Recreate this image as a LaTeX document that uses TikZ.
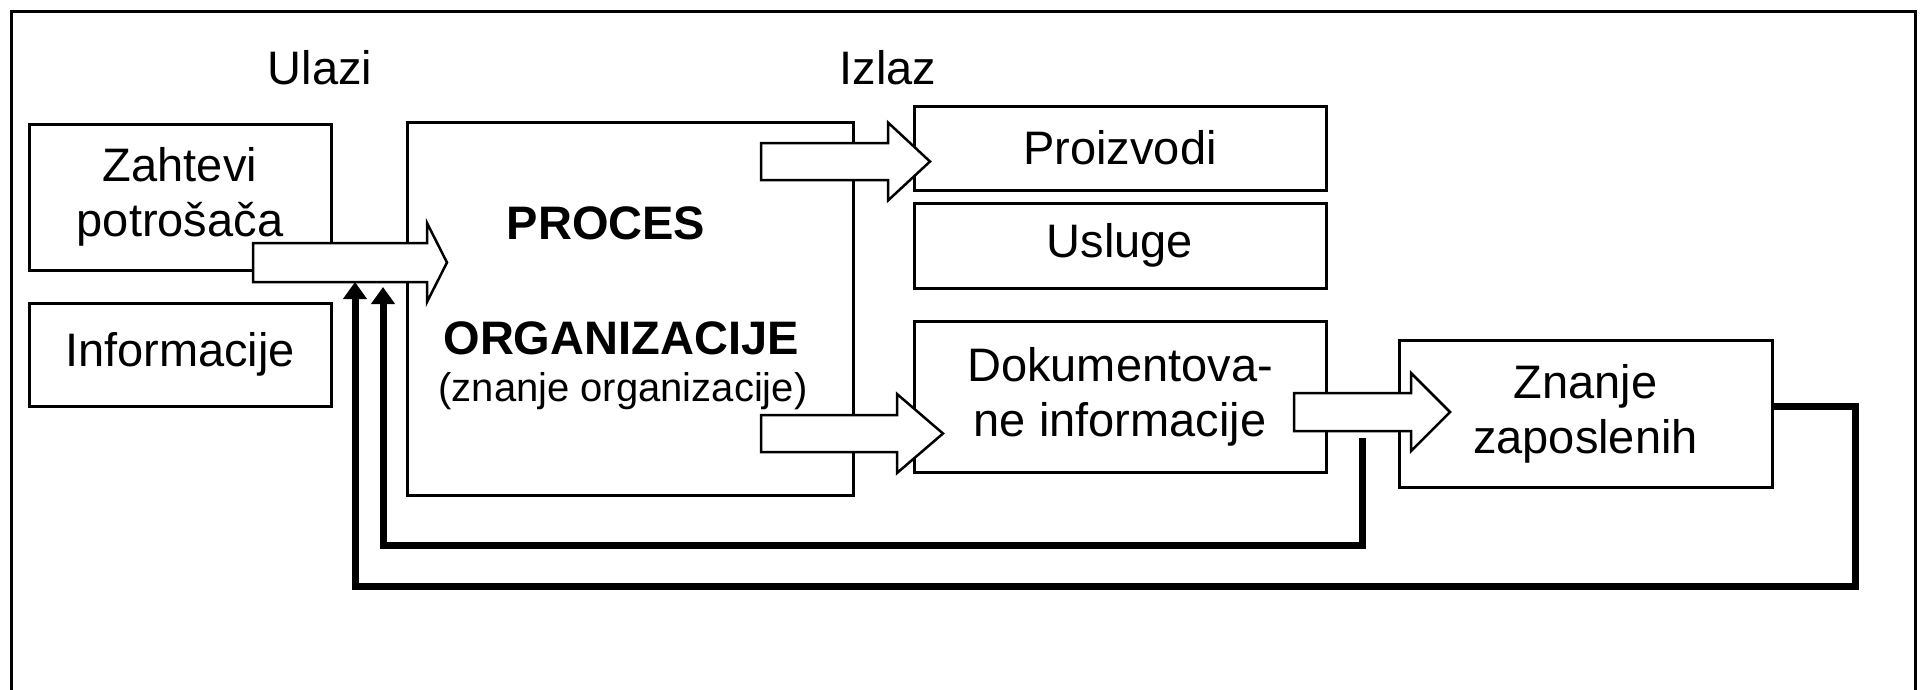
\documentclass[tikz,border=0pt]{standalone}
\usepackage{fontspec}
\setmainfont{Liberation Sans}
\usetikzlibrary{arrows.meta}

\begin{document}
\begin{tikzpicture}[x=1pt,y=-1pt,
  box/.style={draw,line width=3pt,align=center,inner sep=0pt,font=\fontsize{47pt}{55pt}\selectfont},
  lbl/.style={inner sep=0pt,align=center,font=\fontsize{47pt}{55pt}\selectfont},
  blockarrow/.style={draw,fill=white,line width=2.5pt,line join=miter},
  feedback/.style={line width=7pt,-{Triangle[width=23pt,length=17pt]}}]
\useasboundingbox (0,0) rectangle (1921,689);
\draw[line width=3pt] (11,700) |- (1915,11) -- (1915,700);

\node[lbl] (ulazi) at (320,68) {Ulazi};
\node[lbl] (izlaz) at (888,68) {Izlaz};

\node[box,minimum width=302pt,minimum height=146pt] (zah) at (180,197) {Zahtevi\\potrošača};
\node[box,minimum width=302pt,minimum height=103pt] (inf) at (180,354.5) {Informacije};
\node[box,minimum width=446pt,minimum height=373pt] (proc) at (630,308.5) {};
\node[lbl,font=\fontsize{47pt}{55pt}\selectfont\bfseries] (procA) at (606,223) {PROCES};
\node[lbl,font=\fontsize{47pt}{55pt}\selectfont\bfseries] (procB) at (621,338) {ORGANIZACIJE};
\node[lbl,font=\fontsize{40pt}{46pt}\selectfont] (procC) at (623,391) {(znanje organizacije)};
\node[box,minimum width=412pt,minimum height=84pt] (proiz) at (1120,148) {Proizvodi};
\node[box,minimum width=412pt,minimum height=85pt] (usl) at (1120,245.5) {Usluge};
\node[box,minimum width=412pt,minimum height=151pt] (dok) at (1120,396.5) {Dokumentova-\\ne informacije};
\node[box,minimum width=373pt,minimum height=147pt] (zna) at (1585.5,413.5) {Znanje\\zaposlenih};

\coordinate (fbin) at (383,287);
\coordinate (fbout) at (355,282);
\coordinate (dokfb) at (1362,438);
\draw[feedback] (dokfb) -- (dokfb |- 0,545) -| (fbin);
\draw[feedback] ([yshift=7pt]zna.east) -- ++(82,0) -- ++(0,180) -| (fbout);

\coordinate (a1) at (253,262.5);
\coordinate (a2) at (761,161.5);
\coordinate (a3) at (761,433.5);
\coordinate (a4) at (1294,412);
\draw[blockarrow] (a1) ++(0,-19.5) -- ++(174,0) -- ++(0,-20) -- ++(20,39.5) -- ++(-20,39.5) -- ++(0,-20) -- ++(-174,0) -- cycle;
\draw[blockarrow] (a2) ++(0,-18.5) -- ++(127,0) -- ++(0,-20.5) -- ++(42,39) -- ++(-42,39) -- ++(0,-20.5) -- ++(-127,0) -- cycle;
\draw[blockarrow] (a3) ++(0,-18.5) -- ++(136,0) -- ++(0,-21) -- ++(46,39.5) -- ++(-46,39.5) -- ++(0,-21) -- ++(-136,0) -- cycle;
\draw[blockarrow] (a4) ++(0,-19) -- ++(117,0) -- ++(0,-20) -- ++(39,39) -- ++(-39,39) -- ++(0,-20) -- ++(-117,0) -- cycle;
\end{tikzpicture}
\end{document}
